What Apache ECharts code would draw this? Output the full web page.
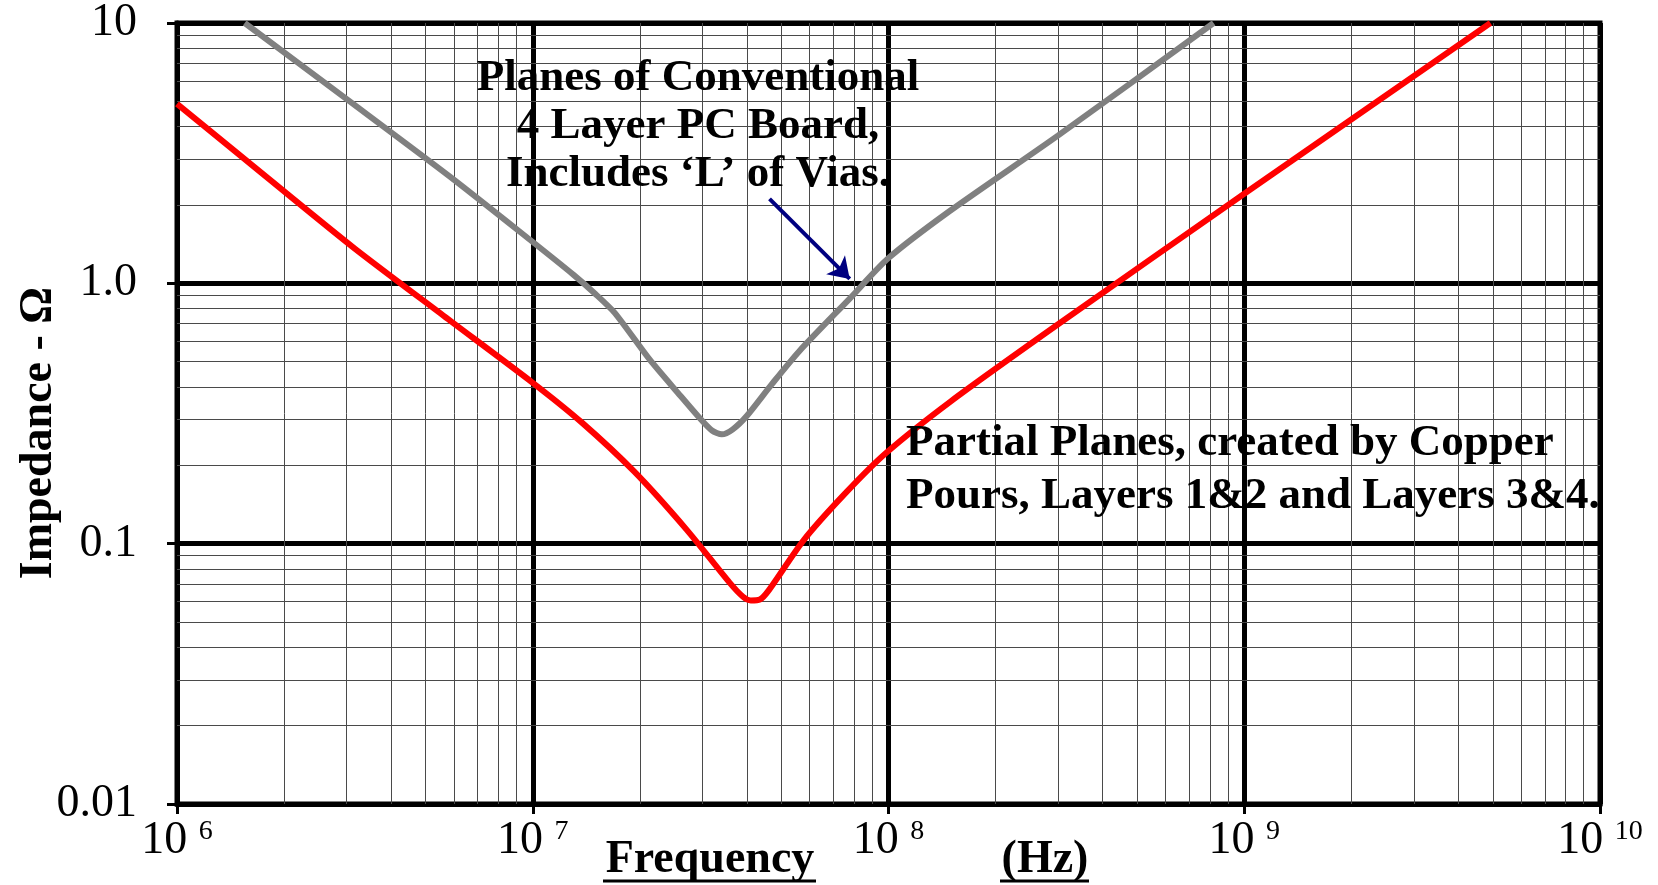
<!DOCTYPE html>
<html>
<head>
<meta charset="utf-8">
<title>Impedance vs Frequency</title>
<script src="https://cdn.jsdelivr.net/npm/echarts@6/dist/echarts.min.js"></script>
<style>
  html, body { margin: 0; padding: 0; background: #fff; }
  #chart { width: 1658px; height: 885px; }
</style>
</head>
<body>
<div id="chart"></div>
<script>
// frequency (Hz) / impedance (ohm)
const redFreq = [1e6, 1.78e6, 3.16e6, 5.62e6, 1e7, 1.37e7, 1.93e7, 2.71e7, 3.57e7, 3.9e7, 4.1e7, 4.35e7, 4.6e7, 5.77e7, 7.59e7, 9.84e7, 1.5e8, 2.97e8, 9.86e8, 4.92e9];
const redZ    = [4.89, 2.57, 1.36, 0.75, 0.415, 0.293, 0.189, 0.113, 0.071, 0.0625, 0.0605, 0.061, 0.066, 0.103, 0.157, 0.223, 0.353, 0.69, 2.18, 10];

const grayFreq = [1.55e6, 3.0e6, 5.85e6, 9.82e6, 1.3e7, 1.5e7, 1.7e7, 2.13e7, 2.6e7, 2.95e7, 3.19e7, 3.4e7, 3.65e7, 4.0e7, 4.7e7, 5.62e7, 7.78e7, 1.0e8, 1.49e8, 3.0e8, 8.2e8];
const grayZ    = [10, 5.1, 2.57, 1.47, 1.08, 0.91, 0.77, 0.51, 0.37, 0.303, 0.272, 0.263, 0.275, 0.31, 0.41, 0.55, 0.874, 1.25, 1.9, 3.7, 10];

// axis ticks
const xDecades = [1e6, 1e7, 1e8, 1e9];
const yDecades = [0.01, 0.1, 1];
const mantissas = [2, 3, 4, 5, 6, 7, 8, 9];
const yTickValues = [0.01, 0.1, 1, 10];
const yTickLabels = ['0.01', '0.1', '1.0', '10'];

// arrow from the label to the gray curve
const arrowFrom = [4.63e7, 2.11];
const arrowTo = [7.78e7, 1.04];

const serif = 'Liberation Serif';

const minorX = [];
xDecades.forEach(d => mantissas.forEach(m => minorX.push({ xAxis: d * m })));
const minorY = [];
yDecades.forEach(d => mantissas.forEach(m => minorY.push({ yAxis: d * m })));

const zip = (xs, ys) => xs.map((x, i) => [x, ys[i]]);

const chart = echarts.init(document.getElementById('chart'));

const option = {
    animation: false,
    backgroundColor: '#fff',
    grid: {
        left: 177, top: 21, right: 58, bottom: 81,
        show: true, borderColor: '#000', borderWidth: 5
    },
    xAxis: {
        type: 'log',
        logBase: 10,
        min: 1e6,
        max: 1e10,
        axisLine: { show: true, lineStyle: { color: '#000', width: 5 } },
        axisTick: { show: true, length: 10, lineStyle: { color: '#000', width: 3 } },
        splitLine: { show: true, lineStyle: { color: '#000', width: 5 } },
        axisLabel: {
            margin: 14,
            formatter: v => '{b|10 }{s|' + Math.round(Math.log10(v)) + '}',
            rich: {
                b: { fontFamily: serif, fontSize: 46, color: '#000' },
                s: { fontFamily: serif, fontSize: 28, color: '#000', verticalAlign: 'top' }
            }
        }
    },
    yAxis: {
        type: 'log',
        logBase: 10,
        min: 0.01,
        max: 10,
        axisLine: { show: true, lineStyle: { color: '#000', width: 5 } },
        axisTick: { show: true, length: 10, lineStyle: { color: '#000', width: 3 } },
        splitLine: { show: true, lineStyle: { color: '#000', width: 5 } },
        axisLabel: {
            margin: 40,
            fontFamily: serif,
            fontSize: 46,
            color: '#000',
            formatter: v => {
                const i = yTickValues.findIndex(t => Math.abs(Math.log10(t) - Math.log10(v)) < 1e-6);
                return i >= 0 ? yTickLabels[i] : '';
            }
        }
    },
    series: [
        {
            // minor grid
            type: 'line',
            z: 1,
            data: [[1e6, 1]],
            showSymbol: false,
            lineStyle: { width: 0 },
            silent: true,
            markLine: {
                silent: true,
                symbol: 'none',
                label: { show: false },
                lineStyle: { color: '#4a4a4a', width: 1, type: 'solid' },
                data: minorX.concat(minorY)
            }
        },
        {
            name: 'Conventional',
            type: 'line',
            z: 5,
            data: zip(grayFreq, grayZ),
            smooth: 0.25,
            showSymbol: false,
            lineStyle: { color: '#808080', width: 6 },
            markLine: {
                silent: true,
                symbol: ['none', 'arrow'],
                symbolSize: 20,
                label: { show: false },
                lineStyle: { color: '#000080', width: 4, type: 'solid' },
                data: [[{ coord: arrowFrom }, { coord: arrowTo }]]
            }
        },
        {
            name: 'Partial',
            type: 'line',
            z: 5,
            data: zip(redFreq, redZ),
            smooth: 0.25,
            showSymbol: false,
            lineStyle: { color: '#ff0000', width: 6 }
        }
    ],
    graphic: [
        {
            type: 'text', x: 39, y: 433, rotation: Math.PI / 2, z: 10,
            style: { text: 'Impedance - Ω', font: 'bold 46px "Liberation Serif"', fill: '#000', textAlign: 'center', textVerticalAlign: 'middle' }
        },
        {
            type: 'text', x: 698, y: 78, z: 10,
            style: { text: 'Planes of Conventional', font: 'bold 45px "Liberation Serif"', fill: '#000', textAlign: 'center', textVerticalAlign: 'middle' }
        },
        {
            type: 'text', x: 698, y: 126, z: 10,
            style: { text: '4 Layer PC Board,', font: 'bold 45px "Liberation Serif"', fill: '#000', textAlign: 'center', textVerticalAlign: 'middle' }
        },
        {
            type: 'text', x: 698, y: 174, z: 10,
            style: { text: 'Includes \u2018L\u2019 of Vias.', font: 'bold 45px "Liberation Serif"', fill: '#000', textAlign: 'center', textVerticalAlign: 'middle' }
        },
        {
            type: 'text', x: 906, y: 443, z: 10,
            style: { text: 'Partial Planes, created by Copper', font: 'bold 45px "Liberation Serif"', fill: '#000', textAlign: 'left', textVerticalAlign: 'middle' }
        },
        {
            type: 'text', x: 906, y: 496, z: 10,
            style: { text: 'Pours, Layers 1&2 and Layers 3&4.', font: 'bold 45px "Liberation Serif"', fill: '#000', textAlign: 'left', textVerticalAlign: 'middle' }
        },
        {
            type: 'text', x: 710, y: 860, z: 10,
            style: { text: 'Frequency', font: 'bold 46px "Liberation Serif"', fill: '#000', textAlign: 'center', textVerticalAlign: 'middle' }
        },
        {
            type: 'line', z: 10,
            shape: { x1: 603, y1: 881, x2: 816, y2: 881 },
            style: { stroke: '#000', lineWidth: 3 }
        },
        {
            type: 'text', x: 1045, y: 860, z: 10,
            style: { text: '(Hz)', font: 'bold 46px "Liberation Serif"', fill: '#000', textAlign: 'center', textVerticalAlign: 'middle' }
        },
        {
            type: 'line', z: 10,
            shape: { x1: 1000, y1: 881, x2: 1089, y2: 881 },
            style: { stroke: '#000', lineWidth: 3 }
        }
    ]
};

chart.setOption(option);
</script>
</body>
</html>
